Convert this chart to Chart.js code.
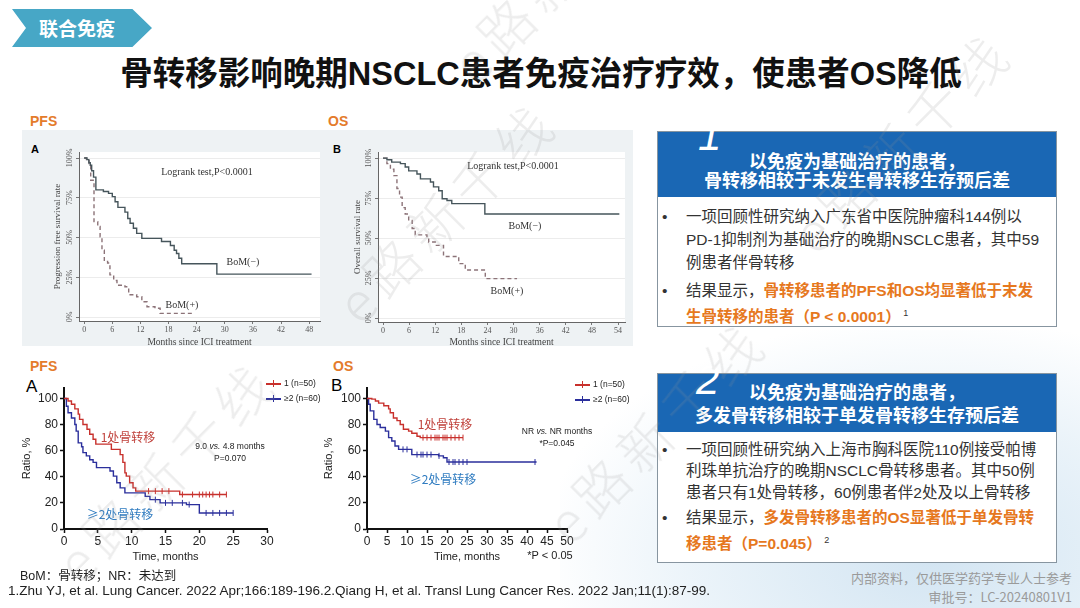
<!DOCTYPE html>
<html>
<head>
<meta charset="utf-8">
<script src="https://cdn.jsdelivr.net/npm/chart.js@4.4.1/dist/chart.umd.min.js"></script>
<style>
  html, body { margin: 0; padding: 0; }
  body { width: 1080px; height: 608px; position: relative; overflow: hidden; background: #fff;
         font-family: "Liberation Sans", "Noto Sans CJK SC", sans-serif; }
  .abs { position: absolute; }
  .c { position: absolute; transform: translate(-50%, -50%); white-space: nowrap; }
  .bg { position: absolute; left: 560px; top: 330px; width: 620px; height: 380px;
        background: radial-gradient(ellipse at 60% 60%, rgba(196,220,238,0.75) 0%, rgba(215,232,244,0.5) 45%, rgba(255,255,255,0) 75%); }
  .tab { left: 12px; top: 9px; width: 140px; height: 38px; background: #47a7c6;
         clip-path: polygon(0 0, 86% 0, 100% 50%, 86% 100%, 0 100%, 10% 50%);
         color: #fff; font: bold 19px "Noto Sans CJK SC"; line-height: 38px; text-indent: 27px; }
  .title { left: 541px; top: 70px; font: bold 32.5px "Liberation Sans", "Noto Sans CJK SC"; color: #111; }
  .lbl { font: bold 14px "Liberation Sans"; color: #e47b2b; }
  .panel { left: 22px; top: 130px; width: 611px; height: 216px; background: #eef2f4; }
  canvas { position: absolute; }
  .serif { font-family: "Liberation Serif", serif; color: #333; font-size: 10px; }
  .red { color: #c0413b; font: 12px "Noto Sans CJK SC"; }
  .blue { color: #2e7bc0; font: 12px "Noto Sans CJK SC"; }
  .sm { font: 8.5px "Liberation Sans"; color: #222; text-align: center; line-height: 12px; }
  .lg { position: absolute; font: 8.5px "Liberation Sans"; color: #222; }
  .lg div { height: 15px; line-height: 15px; white-space: nowrap; }
  .sw { display: inline-block; position: relative; width: 15px; height: 1.5px; vertical-align: middle; margin-right: 3px; }
  .sw::after { content: ""; position: absolute; left: 7px; top: -3px; width: 1px; height: 7px; background: inherit; }
  .box { position: absolute; border: 1.5px solid #8795a0; background: #fff; box-sizing: border-box; }
  .bh { background: #1a67b4; color: #fff; font: bold 18px "Noto Sans CJK SC"; text-align: center; white-space: nowrap; }
  .bb { font: 15.5px "Liberation Sans", "Noto Sans CJK SC"; color: #333; white-space: nowrap; }
  .bb .it { position: relative; padding-left: 28px; }
  .bb .it::before { content: "•"; position: absolute; left: 4px; top: 0; }
  .or { color: #e6781e; font-weight: bold; }
  .num { position: absolute; color: #fff; font: italic 300 42px "Liberation Sans"; }
  .wm { position: absolute; transform: translate(-50%, -50%) rotate(-45deg); font: 300 54px "Noto Sans CJK SC";
        color: rgba(150,150,150,0.17); white-space: nowrap; pointer-events: none; letter-spacing: 8px; }
  .foot { font: 13.5px "Liberation Sans", "Noto Sans CJK SC"; color: #222; white-space: nowrap; }
  .gray { font: 13px "Noto Sans CJK SC"; color: #9a9a9a; text-align: right; white-space: nowrap; line-height: 19px; }
</style>
</head>
<body>
<div class="bg"></div>

<div class="abs tab">联合免疫</div>
<div class="c title">骨转移影响晚期NSCLC患者免疫治疗疗效，使患者OS降低</div>

<div class="abs lbl" style="left:30px;top:113px">PFS</div>
<div class="abs lbl" style="left:328px;top:113px">OS</div>
<div class="abs panel"></div>
<div class="abs" style="left:31px;top:143px;font:bold 11px 'Liberation Sans'">A</div>
<div class="abs" style="left:333px;top:143px;font:bold 11px 'Liberation Sans'">B</div>

<canvas id="topA" width="305" height="220" style="left:22px;top:130px"></canvas>
<canvas id="topB" width="303" height="220" style="left:330px;top:130px"></canvas>

<div class="c serif" style="left:207px;top:171px">Logrank test,P&lt;0.0001</div>
<div class="c serif" style="left:243px;top:261px">BoM(−)</div>
<div class="c serif" style="left:182px;top:304px">BoM(+)</div>
<div class="c serif" style="left:513px;top:165px">Logrank test,P&lt;0.0001</div>
<div class="c serif" style="left:525px;top:225px">BoM(−)</div>
<div class="c serif" style="left:507px;top:290px">BoM(+)</div>

<div class="abs lbl" style="left:30px;top:358px">PFS</div>
<div class="abs lbl" style="left:333px;top:358px">OS</div>
<div class="abs" style="left:26px;top:377px;font:17px 'Liberation Sans'">A</div>
<div class="abs" style="left:331px;top:376px;font:17px 'Liberation Sans'">B</div>

<canvas id="botA" width="265" height="195" style="left:10px;top:375px"></canvas>
<canvas id="botB" width="265" height="195" style="left:312px;top:375px"></canvas>

<div class="c red" style="left:128px;top:436px">1处骨转移</div>
<div class="c blue" style="left:120px;top:513px">≥2处骨转移</div>
<div class="c sm" style="left:230px;top:452px">9.0 <i>vs.</i> 4.8 months<br>P=0.070</div>
<div class="c red" style="left:445px;top:423px">1处骨转移</div>
<div class="c blue" style="left:443px;top:478px">≥2处骨转移</div>
<div class="c sm" style="left:557px;top:437px">NR <i>vs.</i> NR months<br>*P=0.045</div>
<div class="c" style="left:550px;top:555px;font:11px 'Liberation Sans';color:#222">*P &lt; 0.05</div>

<div class="lg" style="left:266px;top:376px">
  <div><span class="sw" style="background:#c8302c"></span>1 (n=50)</div>
  <div><span class="sw" style="background:#2b2f9c"></span>≥2 (n=60)</div>
</div>
<div class="lg" style="left:575px;top:377px">
  <div><span class="sw" style="background:#c8302c"></span>1 (n=50)</div>
  <div><span class="sw" style="background:#2b2f9c"></span>≥2 (n=60)</div>
</div>

<div class="box" style="left:657px;top:131px;width:400px;height:196px">
  <div class="bh" style="height:65px;line-height:19px;box-sizing:border-box;padding-top:19px">以免疫为基础治疗的患者，<br>骨转移相较于未发生骨转移生存预后差</div>
  <div class="bb" style="padding-top:8px">
    <div class="it" style="line-height:23px">一项回顾性研究纳入广东省中医院肿瘤科144例以<br>PD-1抑制剂为基础治疗的晚期NSCLC患者，其中59<br>例患者伴骨转移</div>
    <div class="it" style="line-height:22px;margin-top:6px">结果显示，<span class="or">骨转移患者的PFS和OS均显著低于末发<br>生骨转移的患者（P &lt; 0.0001）</span><sup style="font-size:9px"> 1</sup></div>
  </div>
</div>
<div class="num" style="left:698px;top:112px">1</div>

<div class="box" style="left:657px;top:373px;width:400px;height:190px">
  <div class="bh" style="height:58px;line-height:23px;box-sizing:border-box;padding-top:6px">以免疫为基础治疗的患者，<br>多发骨转移相较于单发骨转移生存预后差</div>
  <div class="bb" style="padding-top:7px">
    <div class="it" style="line-height:21.3px">一项回顾性研究纳入上海市胸科医院110例接受帕博<br>利珠单抗治疗的晚期NSCLC骨转移患者。其中50例<br>患者只有1处骨转移，60例患者伴2处及以上骨转移</div>
    <div class="it" style="line-height:23px;margin-top:3px">结果显示，<span class="or">多发骨转移患者的OS显著低于单发骨转<br>移患者（P=0.045）</span><sup style="font-size:9px"> 2</sup></div>
  </div>
</div>
<div class="num" style="left:696px;top:356px">2</div>

<div class="abs foot" style="left:20px;top:565px;font-size:12.5px">BoM：骨转移；NR：未达到</div>
<div class="abs foot" style="left:8px;top:583px">1.Zhu YJ, et al. Lung Cancer. 2022 Apr;166:189-196.2.Qiang H, et al. Transl Lung Cancer Res. 2022 Jan;11(1):87-99.</div>
<div class="abs gray" style="right:8px;top:568px">内部资料，仅供医学药学专业人士参考<br>审批号：LC-20240801V1</div>

<div class="wm" style="left:445px;top:210px">e路新千线</div>
<div class="wm" style="left:165px;top:470px">e路新千线</div>
<div class="wm" style="left:655px;top:430px">e路新千线</div>
<div class="wm" style="left:900px;top:140px">e路新千线</div>
<div class="wm" style="left:560px;top:-30px">e路新千线</div>

<script>
// ---- top panel A: PFS by bone metastasis (months, %)
const pfsNegT = [0, 0.6, 1.0, 1.3, 1.6, 2.0, 2.5, 4.1, 5.2, 6.0, 6.6, 7.2, 8.7, 9.3, 9.8, 10.5, 11.2, 12.3, 16.5, 18.4, 19.2, 19.7, 20.2, 20.8, 28.3, 48.5];
const pfsNegS = [100, 99, 97, 95.5, 92, 88, 80, 79, 77.8, 75.7, 72.5, 69, 66, 62, 59, 55.8, 52.6, 49.5, 47.5, 45, 42, 40, 37, 33.5, 27, 27];
const pfsPosT = [0, 0.5, 1.05, 1.4, 2.1, 2.9, 3.4, 3.8, 4.3, 5.0, 5.5, 6.3, 7.0, 8.7, 9.5, 11.2, 12.3, 13.4, 15.1, 16.2, 23.3];
const pfsPosS = [100, 99, 96.5, 86, 60, 57, 50.5, 42, 35, 34, 26.5, 23, 20, 19, 14, 12.8, 9.6, 6.5, 5.5, 2.3, 2.3];

// ---- top panel B: OS by bone metastasis
const osNegT = [0, 0.9, 2, 4, 5.1, 5.9, 7.8, 8.6, 10.9, 11.6, 12.8, 13.6, 14.7, 15.8, 23.4, 54.3];
const osNegS = [100, 99, 97.5, 96.5, 94.4, 92, 90, 87, 85, 82, 79.6, 74.6, 73.5, 71.5, 65, 65];
const osPosT = [0, 0.9, 1.7, 2.5, 3.2, 3.8, 4.4, 5.1, 5.9, 6.7, 7.4, 10.1, 10.5, 12, 13.9, 17.4, 18.9, 23.5, 30.8];
const osPosS = [100, 96.5, 93, 89, 81, 75.6, 69, 65, 61, 56, 52, 51, 47.5, 45.4, 38.5, 34, 30, 24.6, 24.6];

// ---- bottom panel A: PFS, 1 site vs >=2 sites
const pfs1T = [0, 0.6, 1.1, 1.6, 2.1, 2.3, 2.8, 3.4, 3.8, 4.3, 4.7, 7.0, 8.3, 8.7, 9.0, 9.2, 9.7, 10.2, 10.6, 17.1, 24];
const pfs1S = [100, 98, 95.6, 92, 88, 84, 80, 76.4, 72.6, 68.7, 65, 61, 57, 51, 43, 40.5, 35.4, 31.5, 29, 26.4, 26.4];
const pfs2T = [0, 0.35, 0.6, 1.1, 1.6, 1.8, 2.1, 2.6, 2.8, 3.3, 3.8, 4.3, 4.8, 6.8, 7.3, 7.8, 8.3, 9.0, 12.0, 12.7, 14.2, 18.1, 20.0, 25];
const pfs2S = [100, 94, 89, 85, 80, 75, 66, 63, 58.5, 56, 53, 51, 47, 44.4, 40.5, 35.4, 31.5, 27.7, 25, 22.5, 20, 18.7, 12.3, 12.3];
const pfs1Cens = [12.5, 13.5, 14.5, 15.5, 17.5, 19, 20, 20.5, 21, 21.5, 22, 23, 24];
const pfs2Cens = [13.5, 15, 16, 17.5, 18.5, 21, 22, 23, 24, 25];

// ---- bottom panel B: OS, 1 site vs >=2 sites
const os1T = [0, 1.2, 2.1, 2.9, 4.2, 5.4, 5.8, 6.6, 7.5, 8.3, 9.1, 10.4, 11.2, 12.5, 13.3, 24];
const os1S = [100, 99.5, 98, 96.4, 94.4, 92, 89, 85, 83, 80, 76.4, 75, 73.3, 71, 70, 70];
const os2T = [0, 0.4, 0.8, 1.7, 2.5, 3.3, 4.6, 5.4, 6.2, 7.0, 7.9, 11.2, 17.9, 19.1, 20.0, 42.4];
const os2S = [100, 95.6, 90.5, 84, 80, 77.7, 75, 70, 67.4, 63.6, 61, 57, 56, 54.6, 51.3, 51.3];
const os1Cens = [14, 15, 16, 17, 17.5, 18, 19, 19.5, 20, 21, 22, 23, 24];
const os2Cens = [9, 10, 12.5, 13.5, 14, 15, 16, 18, 20.5, 21.5, 22, 23, 24, 25, 42];

const topXTicksA = [0, 6, 12, 18, 24, 30, 36, 42, 48];
const topXTicksB = [0, 6, 12, 18, 24, 30, 36, 42, 48, 54];
const topYTicks = [0, 25, 50, 75, 100];
const botYTicks = [0, 20, 40, 60, 80, 100];

Chart.defaults.font.family = "Liberation Sans";
Chart.defaults.animation = false;

function pts(t, s) { return t.map((v, i) => ({x: v, y: s[i]})); }
// survival level of a step curve at time x (for censor ticks)
function levelAt(t, s, x) {
  let k = 0;
  for (let i = 0; i < t.length; i++) if (t[i] <= x) k = i;
  return s[k];
}
function cens(t, s, c) { return c.map(x => ({x: x, y: levelAt(t, s, x)})); }

const plotBg = {
  id: "plotBg",
  beforeDraw(chart, args, o) {
    if (!o.color) return;
    const a = chart.chartArea, ctx = chart.ctx;
    ctx.save(); ctx.fillStyle = o.color; ctx.fillRect(a.left, a.top, a.right - a.left, a.bottom - a.top); ctx.restore();
  }
};
const rotY = {
  id: "rotY",
  afterDraw(chart, args, o) {
    if (!o.values) return;
    const sc = chart.scales.y, ctx = chart.ctx;
    ctx.save();
    ctx.font = o.font; ctx.fillStyle = o.color; ctx.textAlign = "center"; ctx.textBaseline = "middle";
    o.values.forEach(v => {
      ctx.save();
      ctx.translate(sc.right - o.offset, sc.getPixelForValue(v));
      ctx.rotate(-Math.PI / 2);
      ctx.fillText(v + "%", 0, 0);
      ctx.restore();
    });
    ctx.restore();
  }
};

function stepLine(data, color, dash) {
  return {data: data, borderColor: color, borderWidth: 1.4, borderDash: dash || [], stepped: true,
          pointRadius: 0, fill: false, tension: 0};
}
function censSet(data, color) {
  return {data: data, showLine: false, pointStyle: "line", rotation: 90, pointRadius: 3,
          pointBorderColor: color, pointBorderWidth: 1, borderColor: color};
}

function topChart(id, sets, xmin, xmax, xticks, ytitle, yw, padR, xh, titlePad) {
  new Chart(document.getElementById(id), {
    type: "line",
    data: {datasets: sets},
    plugins: [plotBg, rotY],
    options: {
      responsive: false,
      layout: {padding: {left: 0, right: padR, top: 22, bottom: 0}},
      plugins: {legend: {display: false}, tooltip: {enabled: false},
                plotBg: {color: "#ffffff"},
                rotY: {values: topYTicks, font: "8px 'Liberation Serif'", color: "#555", offset: 9}},
      scales: {
        x: {type: "linear", min: xmin, max: xmax,
            afterBuildTicks: s => { s.ticks = xticks.map(v => ({value: v})); },
            afterFit: s => { s.height = xh; },
            ticks: {font: {family: "Liberation Serif", size: 8}, color: "#555", padding: 1, maxRotation: 0},
            grid: {drawOnChartArea: false, drawTicks: true, tickLength: 3, tickColor: "#777"},
            border: {color: "#666", width: 1},
            title: {display: true, text: "Months since ICI treatment", color: "#444",
                    font: {family: "Liberation Serif", size: 9.5}, padding: {top: 0, bottom: 2}}},
        y: {type: "linear", min: -2.5, max: 103.8,
            afterBuildTicks: s => { s.ticks = topYTicks.map(v => ({value: v})); },
            afterFit: s => { s.width = yw; },
            ticks: {display: false},
            grid: {color: "#ececec", drawTicks: true, tickLength: 3, tickColor: "#777"},
            border: {color: "#666", width: 1},
            title: {display: true, text: ytitle, color: "#444",
                    font: {family: "Liberation Serif", size: 9}, padding: {top: titlePad, bottom: 0}}}
      }
    }
  });
}

function botChart(id, sets, xmax, xstep, yw, padR) {
  new Chart(document.getElementById(id), {
    type: "line",
    data: {datasets: sets},
    options: {
      responsive: false,
      layout: {padding: {left: 0, right: padR, top: 13, bottom: 0}},
      plugins: {legend: {display: false}, tooltip: {enabled: false}},
      scales: {
        x: {type: "linear", min: 0, max: xmax,
            afterFit: s => { s.height = 41; },
            ticks: {stepSize: xstep, font: {size: 12}, color: "#222", padding: 1, maxRotation: 0},
            grid: {drawOnChartArea: false, drawTicks: true, tickLength: 4, tickColor: "#111", tickWidth: 1.5},
            border: {color: "#111", width: 2},
            title: {display: true, text: "Time, months", color: "#222", font: {size: 11}, padding: {top: 0, bottom: 6}}},
        y: {type: "linear", min: 0, max: 108,
            afterBuildTicks: s => { s.ticks = botYTicks.map(v => ({value: v})); },
            afterFit: s => { s.width = yw; },
            ticks: {font: {size: 12}, color: "#222", padding: 2},
            grid: {drawOnChartArea: false, drawTicks: true, tickLength: 4, tickColor: "#111", tickWidth: 1.5},
            border: {color: "#111", width: 2},
            title: {display: true, text: "Ratio, %", color: "#222", font: {size: 11}, padding: {top: 10, bottom: 0}}}
      }
    }
  });
}

const darkLine = "#46555b", dashLine = "#8c7378";
const red = "#c8302c", blue = "#2b2f9c";

topChart("topA", [
  stepLine(pts(pfsNegT, pfsNegS), darkLine),
  stepLine(pts(pfsPosT, pfsPosS), dashLine, [4, 3])
], -1.1, 50.3, topXTicksA, "Progression free survival rate", 57, 7, 29, 30);

topChart("topB", [
  stepLine(pts(osNegT, osNegS), darkLine),
  stepLine(pts(osPosT, osPosS), dashLine, [4, 3])
], -1.15, 55.6, topXTicksB, "Overall survival rate", 48, 8, 28, 22);

botChart("botA", [
  stepLine(pts(pfs1T, pfs1S), red),
  stepLine(pts(pfs2T, pfs2S), blue),
  censSet(cens(pfs1T, pfs1S, pfs1Cens), red),
  censSet(cens(pfs2T, pfs2S, pfs2Cens), blue)
], 30, 5, 54, 8);

botChart("botB", [
  stepLine(pts(os1T, os1S), red),
  stepLine(pts(os2T, os2S), blue),
  censSet(cens(os1T, os1S, os1Cens), red),
  censSet(cens(os2T, os2S, os2Cens), blue)
], 50, 5, 55, 10);
</script>
</body>
</html>
